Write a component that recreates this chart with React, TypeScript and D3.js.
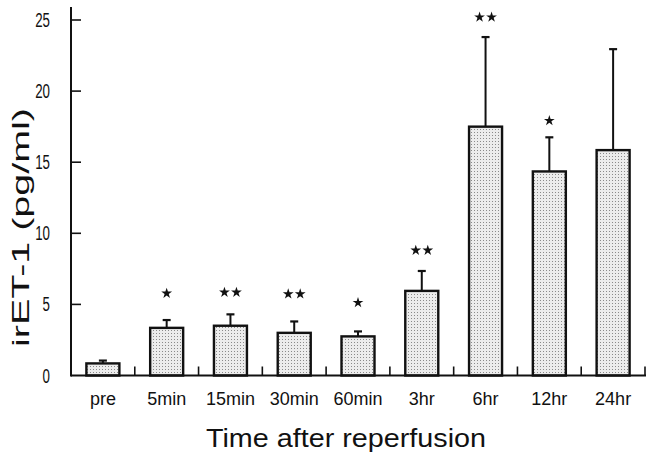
import React from "react";
import * as d3 from "d3";

const categories = ["pre", "5min", "15min", "30min", "60min", "3hr", "6hr", "12hr", "24hr"];
const means = [0.85, 3.35, 3.5, 3.0, 2.75, 5.95, 17.5, 14.35, 15.85];
const errTops = [1.05, 3.9, 4.3, 3.8, 3.1, 7.35, 23.8, 16.75, 22.95];
const starCounts = [0, 1, 2, 2, 1, 2, 2, 1, 0];
const starLevels = [0, 5.78, 5.85, 5.73, 5.12, 8.8, 25.2, 17.92, 0];
const yTicks = [0, 5, 10, 15, 20, 25];

const W = 651;
const H = 459;
const left = 71;
const right = 645;
const y0 = 375.5;
const yTop25 = 20;

export default function App() {
  const x = d3.scaleBand<string>().domain(categories).range([left, right]).paddingInner(0).paddingOuter(0);
  const y = d3.scaleLinear().domain([0, 25]).range([y0, yTop25]);
  const barW = 33;
  const star = d3.symbol().type(d3.symbolStar).size(36)() as string;
  const boundaries = categories.map((c) => (x(c) as number) + x.bandwidth());
  const font = "'Liberation Sans', Arial, Helvetica, sans-serif";

  return (
    <svg width={W} height={H} style={{ position: "absolute", left: 0, top: 0, background: "#fff" }}>
      <defs>
        <pattern id="stip" width="3" height="3" patternUnits="userSpaceOnUse">
          <rect width="3" height="3" fill="#ececec" />
          <rect width="1" height="1" fill="#8a8a8a" />
        </pattern>
      </defs>
      {categories.map((c, i) => {
        const cx = (x(c) as number) + x.bandwidth() / 2;
        return (
          <g key={c}>
            <line x1={cx} x2={cx} y1={y(means[i])} y2={y(errTops[i])} stroke="#111" strokeWidth={2} />
            <line x1={cx - 4} x2={cx + 4} y1={y(errTops[i])} y2={y(errTops[i])} stroke="#111" strokeWidth={2.2} />
            <rect
              x={cx - barW / 2}
              y={y(means[i])}
              width={barW}
              height={y0 - y(means[i])}
              fill="url(#stip)"
              stroke="#111"
              strokeWidth={2.4}
            />
            {d3.range(starCounts[i]).map((k) => {
              const off = starCounts[i] === 2 ? (k === 0 ? -6 : 6) : 0;
              return (
                <path key={k} d={star} transform={`translate(${cx + off},${y(starLevels[i])})`} fill="#111" />
              );
            })}
            <text x={cx} y={405} textAnchor="middle" fontFamily={font} fontSize={18} fill="#111">
              {c}
            </text>
          </g>
        );
      })}
      <line x1={left} x2={right + 1} y1={y0} y2={y0} stroke="#111" strokeWidth={2} />
      {boundaries.map((b, i) => (
        <line key={i} x1={b} x2={b} y1={y0} y2={y0 - 9} stroke="#111" strokeWidth={1.6} />
      ))}
      <line x1={left} x2={left} y1={y0 + 1} y2={7} stroke="#111" strokeWidth={2} />
      {yTicks.map((t) => (
        <g key={t}>
          {t > 0 && <line x1={left} x2={left + 10} y1={y(t)} y2={y(t)} stroke="#111" strokeWidth={1.6} />}
          <text
            x={50}
            y={y(t) + 7}
            textAnchor="end"
            fontFamily={font}
            fontSize={20}
            fill="#111"
            textLength={String(t).length * 7.4}
            lengthAdjust="spacingAndGlyphs"
          >
            {t}
          </text>
        </g>
      ))}
      <text
        x={206}
        y={447}
        fontFamily={font}
        fontSize={25}
        fill="#111"
        textLength={280}
        lengthAdjust="spacingAndGlyphs"
      >
        Time after reperfusion
      </text>
      <text
        transform="translate(29,347) rotate(-90)"
        x={0}
        y={0}
        fontFamily={font}
        fontSize={24}
        fill="#111"
        textLength={239}
        lengthAdjust="spacingAndGlyphs"
      >
        irET-1 (pg/ml)
      </text>
    </svg>
  );
}
